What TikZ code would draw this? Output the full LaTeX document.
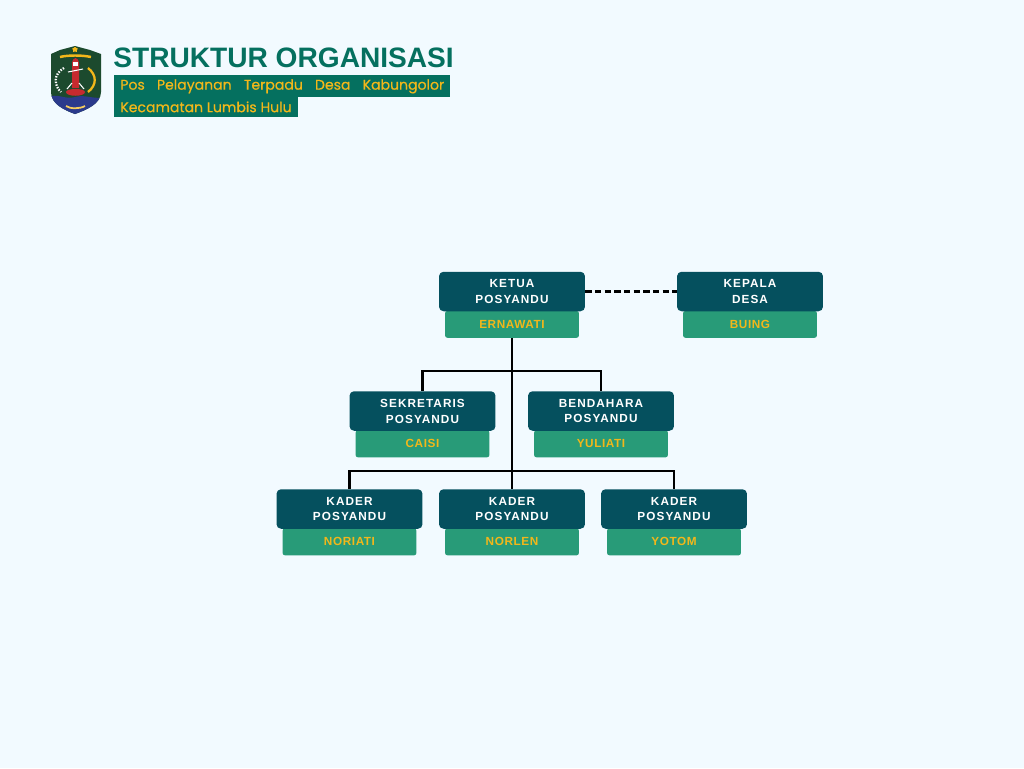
\documentclass[tikz,border=0pt]{standalone}
\usepackage{fontspec}
\setmainfont{Liberation Sans}
\newfontfamily\labelfont[LetterSpace=9]{Liberation Sans}
\newfontfamily\namafont[LetterSpace=5]{Liberation Sans}
\newfontfamily\sorotfont[FakeBold=0.5]{Poppins}
\usetikzlibrary{shapes.geometric}
\definecolor{latar}{HTML}{F2FAFF}
\definecolor{tua}{HTML}{05505E}
\definecolor{hijau}{HTML}{289B78}
\definecolor{emas}{HTML}{F2B71A}
\definecolor{judul}{HTML}{05705F}
\definecolor{perisai}{HTML}{1C4A2E}
\definecolor{laut}{HTML}{2B3A8C}
\definecolor{merah}{HTML}{C62A2F}

\begin{document}
\begin{tikzpicture}[x=0.02cm, y=-0.02cm,
    jabatan/.style={fill=tua, text=white, rounded corners=0.09cm, align=center,
      minimum width=2.92cm, minimum height=0.79cm, inner sep=0pt,
      font=\labelfont\bfseries\fontsize{6.7}{9.07}\selectfont},
    nama/.style={fill=hijau, text=emas, rounded corners=0.05cm, anchor=north,
      minimum width=2.68cm, minimum height=0.54cm, inner sep=0pt,
      font=\namafont\bfseries\fontsize{6.7}{8}\selectfont},
    sorot/.style={fill=judul, text=emas, anchor=north west, inner ysep=0pt, inner xsep=0.12cm,
      font=\sorotfont\fontsize{8}{10}\selectfont},
    garis/.style={line width=1.2pt, black}]
  \fill[latar] (0,0) rectangle (1024,768);

  % lambang
  \begin{scope}
    \path[clip] (75,46) -- (90,50) -- (101,54) -- (101,92)
      .. controls (101,104) and (86,110) .. (75,114)
      .. controls (64,110) and (51,104) .. (51,92) -- (51,54) -- (60,50) -- cycle;
    \fill[perisai] (45,40) rectangle (105,120);
    \fill[laut] (45,97) .. controls (60,93) and (65,100) .. (75,97)
      .. controls (85,94) and (95,100) .. (105,97) -- (105,120) -- (45,120) -- cycle;
  \end{scope}
  \node[star, star points=5, fill=emas, minimum size=0.12cm, inner sep=0pt] (bintang) at (75,49.5) {};
  \draw[emas, line width=1.4pt] (60,57) .. controls (68,55) and (82,55) .. (91,57);
  \fill[merah] (72,88) -- (72,64) .. controls (72,60) and (74,58) .. (75.5,58)
    .. controls (77,58) and (79,60) .. (79,64) -- (79,88) -- cycle;
  \fill[white] (73,62) rectangle (78,66);
  \draw[white, line width=0.6pt] (68,72) -- (83,69);
  \draw[white, line width=0.6pt] (67,89) -- (72,83) (84,89) -- (79,83);
  \fill[merah] (66,92) .. controls (66,88) and (85,88) .. (85,92)
    .. controls (85,97) and (66,97) .. (66,92) -- cycle;
  \draw[white, line width=1.3pt, dash pattern=on 0.8pt off 0.8pt] (64,68) .. controls (53,74) and (54,86) .. (61,92);
  \draw[emas, line width=1.3pt] (88,68) .. controls (97,75) and (97,85) .. (88,92);
  \draw[emas!70!white, line width=1pt] (66,106) .. controls (70,109) and (80,109) .. (85,106);

  % judul
  \node[anchor=west, inner sep=0pt, text=judul,
    font=\bfseries\fontsize{16}{18}\selectfont] (judul) at (113,58) {STRUKTUR ORGANISASI};
  \node[sorot, minimum height=0.44cm] (baris1) at (114,75)
    {\makebox[6.48cm][s]{Pos Pelayanan Terpadu Desa Kabungolor}};
  \node[sorot, minimum height=0.40cm] (baris2) at (114,97)
    {\raisebox{0.6pt}{\makebox[3.44cm][l]{Kecamatan Lumbis Hulu}}};

  % kotak
  \foreach \id/\cx/\cy/\teks/\orang in {
      ketua/512/291.5/{KETUA\\POSYANDU}/{ERNAWATI},
      kepala/750/291.5/{KEPALA\\DESA}/{BUING},
      sekretaris/422.5/411/{SEKRETARIS\\POSYANDU}/{CAISI},
      bendahara/601/411/{BENDAHARA\\POSYANDU}/{YULIATI},
      kadera/349.5/509/{KADER\\POSYANDU}/{NORIATI},
      kaderb/512/509/{KADER\\POSYANDU}/{NORLEN},
      kaderc/674/509/{KADER\\POSYANDU}/{YOTOM}} {
    \node[nama] (nama\id) at (\cx,\cy+19) {\orang};
    \node[jabatan] (\id) at (\cx,\cy) {\teks};
  }

  % garis
  \coordinate (cabanga) at (512,371);
  \coordinate (cabangb) at (512,471);
  \draw[garis] (namaketua.south) -- (kaderb.north);
  \draw[line width=1.5pt, black] (namaketua.south) -- (cabanga);
  \draw[garis] (sekretaris.north) |- (cabanga) -| (bendahara.north);
  \draw[garis] (kadera.north) |- (cabangb) -| (kaderc.north);
  \draw[line width=1.15pt, black, dash pattern=on 3.6pt off 1.9pt] (ketua.east) -- (kepala.west);
\end{tikzpicture}
\end{document}
